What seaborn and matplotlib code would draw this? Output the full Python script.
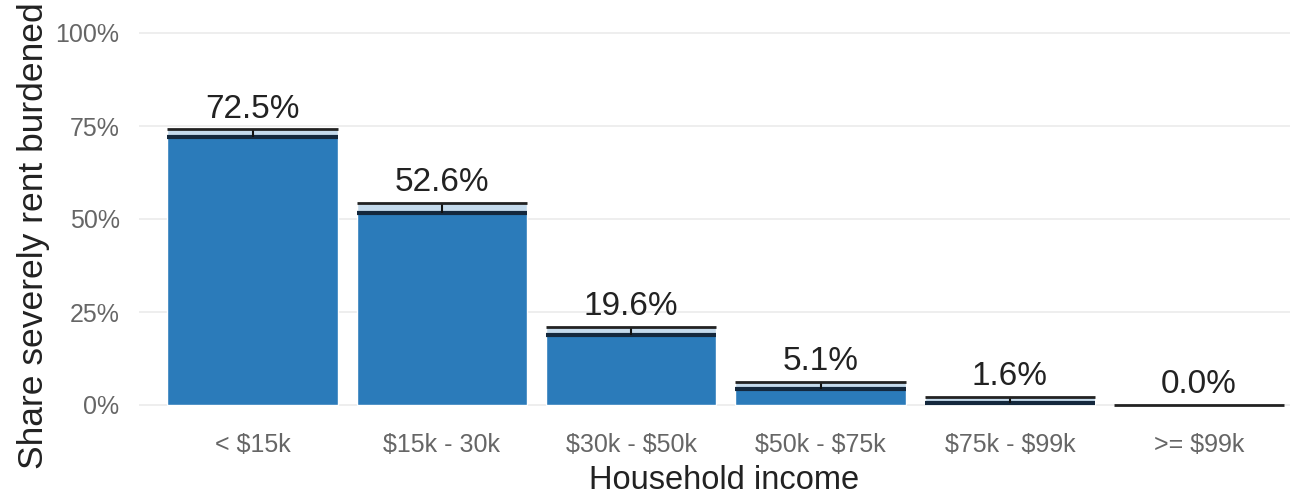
import matplotlib
matplotlib.use("Agg")
import matplotlib.pyplot as plt
import seaborn as sns
import pandas as pd
from matplotlib.ticker import FuncFormatter

# data
income = ["< $15k", "$15k - 30k", "$30k - $50k", "$50k - $75k", "$75k - $99k", ">= $99k"]
share = [72.5, 52.6, 19.6, 5.1, 1.6, 0.0]
ci_low = [72.0, 51.7, 18.8, 4.2, 0.6, 0.0]
ci_high = [74.1, 54.4, 21.0, 6.3, 2.2, 0.0]

df = pd.DataFrame({"income": income, "share": share, "lo": ci_low, "hi": ci_high})

sns.set_style("white")
plt.rcParams["font.family"] = ["Liberation Sans", "DejaVu Sans"]

fig = plt.figure(figsize=(13.11, 5.03), dpi=100)
ax = fig.add_axes([139 / 1311, 1 - 423.6 / 503, 1151 / 1311, 409.2 / 503])

bar_color = "#2b7bba"
sns.barplot(data=df, x="income", y="share", color=bar_color, saturation=1,
            width=0.9, ax=ax, zorder=2)

# confidence band + wide caps on each bar
for patch, lo, hi, val in zip(ax.patches, df["lo"], df["hi"], df["share"]):
    x0 = patch.get_x()
    w = patch.get_width()
    xc = x0 + w / 2
    if hi > lo:
        ax.bar(xc, hi - lo, bottom=lo, width=w, color="#c4daec", zorder=3)
        ax.hlines(lo, x0, x0 + w, color="#14283d", lw=3, zorder=4)
        ax.vlines(xc, lo, hi, color="#111111", lw=1.5, zorder=4)
    ax.hlines(hi, x0, x0 + w, color="#222222", lw=2, zorder=4)
    ax.annotate(f"{val:.1f}%", (xc, hi), xytext=(0, 8.5), textcoords="offset points",
                ha="center", va="baseline", fontsize=24, color="#222222")

ax.set_ylim(-5, 105)
ax.set_xlim(-0.6, 5.48)
ax.set_yticks([0, 25, 50, 75, 100])
ax.yaxis.set_major_formatter(FuncFormatter(lambda v, p: f"{v:.0f}%"))
ax.grid(axis="y", color="#ebebeb", lw=1.2, zorder=0)
ax.grid(axis="x", visible=False)
ax.set_axisbelow(True)
for s in ax.spines.values():
    s.set_visible(False)

ax.tick_params(axis="both", length=0, labelsize=18, labelcolor="#666666")
ax.tick_params(axis="x", pad=7)
ax.tick_params(axis="y", pad=14)
for t in ax.get_xticklabels():
    t.set_parse_math(False)

ax.set_xlabel("Household income", fontsize=23.5, color="#222222")
ax.xaxis.set_label_coords(0.508, -0.1)
ax.set_ylabel("Share severely rent burdened", fontsize=25.5, color="#222222")
ax.yaxis.set_label_coords(-0.077, 0.46)

fig.savefig("out.png", dpi=100)
